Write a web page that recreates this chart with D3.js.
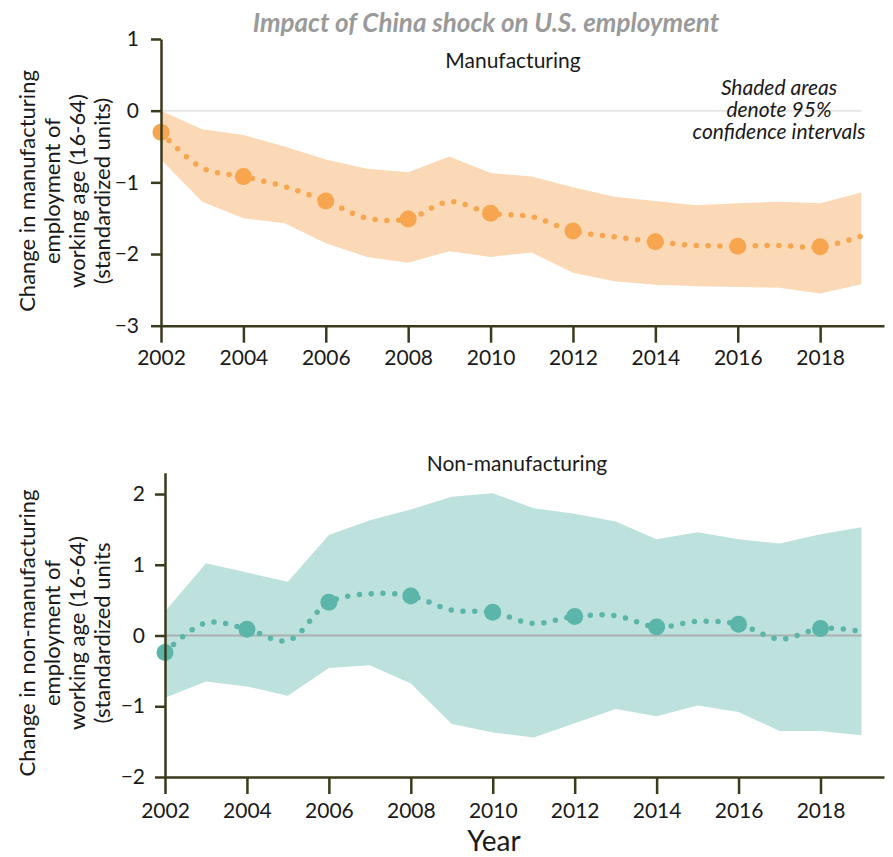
<!DOCTYPE html>
<html><head><meta charset="utf-8">
<script src="https://cdn.jsdelivr.net/npm/d3@7"></script>
<style>
body{margin:0;background:#fff;}
svg{display:block;font-family:Lato,"Open Sans",sans-serif;}
</style></head><body>
<svg id="c" width="893" height="857"></svg>
<script>
const years = d3.range(2002, 2020);
const xTicks = [2002,2004,2006,2008,2010,2012,2014,2016,2018];
const markerYears = [2002,2004,2006,2008,2010,2012,2014,2016,2018];

const mfgEst   = [-0.30,-0.80,-0.92,-1.06,-1.26,-1.50,-1.51,-1.27,-1.43,-1.48,-1.68,-1.76,-1.83,-1.88,-1.89,-1.88,-1.90,-1.75];
const mfgUpper = [0.00,-0.26,-0.34,-0.50,-0.68,-0.81,-0.86,-0.64,-0.87,-0.92,-1.07,-1.20,-1.26,-1.32,-1.29,-1.27,-1.29,-1.14];
const mfgLower = [-0.68,-1.27,-1.50,-1.57,-1.85,-2.04,-2.12,-1.96,-2.04,-1.98,-2.26,-2.38,-2.43,-2.45,-2.46,-2.47,-2.55,-2.42];

const nonEst   = [-0.24,0.18,0.09,-0.07,0.47,0.59,0.56,0.36,0.33,0.17,0.27,0.28,0.12,0.20,0.16,-0.05,0.10,0.06];
const nonUpper = [0.34,1.02,0.89,0.76,1.42,1.63,1.78,1.96,2.01,1.80,1.72,1.61,1.36,1.46,1.36,1.30,1.43,1.53];
const nonLower = [-0.88,-0.65,-0.72,-0.85,-0.46,-0.42,-0.68,-1.25,-1.37,-1.44,-1.24,-1.04,-1.14,-0.99,-1.08,-1.35,-1.35,-1.41];

const mfgYTicks = [1,0,-1,-2,-3];
const nonYTicks = [2,1,0,-1,-2];

const svg = d3.select("#c");
const axisColor = "#3a3a1c";
const fmt = d => d < 0 ? "\u2212" + Math.abs(d) : String(d);

function panel(cfg){
  const x = d3.scaleLinear().domain([2002, 2019.55]).range([cfg.x0, 884]);
  const y = d3.scaleLinear().domain(cfg.yDomain).range([cfg.yBottom, cfg.yTop]);
  const g = svg.append("g");
  const rows = years.map((yr,i)=>({yr, est:cfg.est[i], lo:cfg.lo[i], hi:cfg.hi[i]}));

  if(!cfg.zeroOver){
    g.append("line").attr("x1", x(2002)).attr("x2", x(2019)).attr("y1", y(0)).attr("y2", y(0))
      .attr("stroke", cfg.zeroColor).attr("stroke-width", 2);
  }
  g.append("path").datum(rows)
    .attr("d", d3.area().x(d=>x(d.yr)).y0(d=>y(d.lo)).y1(d=>y(d.hi)))
    .attr("fill", cfg.band);
  if(cfg.zeroOver){
    g.append("line").attr("x1", x(2002)).attr("x2", x(2019)).attr("y1", y(0)).attr("y2", y(0))
      .attr("stroke", cfg.zeroColor).attr("stroke-width", 2);
  }
  g.append("path").datum(rows)
    .attr("d", d3.line().x(d=>x(d.yr)).y(d=>y(d.est)).curve(d3.curveCatmullRom.alpha(0.5)))
    .attr("fill","none").attr("stroke", cfg.dot).attr("stroke-width", 5.5)
    .attr("stroke-linecap","round").attr("stroke-dasharray","0 11.8");
  g.selectAll("circle.m").data(rows.filter(d=>markerYears.includes(d.yr))).join("circle")
    .attr("cx", d=>x(d.yr)).attr("cy", d=>y(d.est)).attr("r", 8.5).attr("fill", cfg.dot);

  const xa = g.append("g").attr("transform", `translate(0,${cfg.yBottom})`)
    .call(d3.axisBottom(x).tickValues(xTicks).tickFormat(d3.format("d")).tickSize(17).tickSizeOuter(0).tickPadding(cfg.xPad));
  const ya = g.append("g").attr("transform", `translate(${cfg.x0},0)`)
    .call(d3.axisLeft(y).tickValues(cfg.yTicks).tickFormat(fmt).tickSize(10).tickSizeOuter(0).tickPadding(cfg.yPad));
  [xa, ya].forEach(a=>{
    a.select(".domain").attr("stroke", axisColor).attr("stroke-width", 2.5);
    a.selectAll(".tick line").attr("stroke", axisColor).attr("stroke-width", 2.5);
    a.selectAll(".tick text").attr("fill","#1a1a1a").style("font-size","21px").style("font-family","Lato, sans-serif");
  });

  g.append("text").attr("x", cfg.titleX).attr("y", cfg.titleY).attr("text-anchor","middle")
    .style("font-size","21px").attr("fill","#1a1a1a").text(cfg.title);

  const lab = g.append("text").attr("transform", `translate(0,${cfg.labelCY}) rotate(-90)`)
    .attr("text-anchor","middle").style("font-size","22px").attr("fill","#1a1a1a");
  cfg.label.forEach((t,i)=>{
    lab.append("tspan").attr("x",0).attr("y", 35 + i*25).text(t);
  });
}

svg.append("text").attr("x", 486).attr("y", 32).attr("text-anchor","middle")
  .style("font-size","26px").style("font-style","italic").style("font-weight","700")
  .attr("fill","#9a9a9a").text("Impact of China shock on U.S. employment");

panel({x0:161, yDomain:[-3,1], yBottom:325.7, yTop:39, est:mfgEst, lo:mfgLower, hi:mfgUpper,
  band:"#fbd9b6", dot:"#f7a54e", zeroColor:"#e6e6e6", zeroOver:false, yTicks:mfgYTicks,
  xPad:7, yPad:12, title:"Manufacturing", titleX:513, titleY:68, labelCY:191,
  label:["Change in manufacturing","employment of","working age (16-64)","(standardized units)"]});

panel({x0:165, yDomain:[-2,2.3], yBottom:777, yTop:472.8, est:nonEst, lo:nonLower, hi:nonUpper,
  band:"#bde1dc", dot:"#5bb5a9", zeroColor:"#a9b2b0", zeroOver:true, yTicks:nonYTicks,
  xPad:9, yPad:10, title:"Non-manufacturing", titleX:517, titleY:471, labelCY:633,
  label:["Change in non-manufacturing","employment of","working age (16-64)","(standardized units"]});

["Shaded areas","denote 95%","confidence intervals"].forEach((t,i)=>{
  svg.append("text").attr("text-anchor","middle").style("font-size","21px")
    .style("font-style","italic").attr("fill","#1a1a1a")
    .attr("x", 779).attr("y", 95 + i*22).text(t);
});

svg.append("text").attr("x", 494).attr("y", 851).attr("text-anchor","middle")
  .style("font-size","28px").attr("fill","#1a1a1a").text("Year");
</script>
</body></html>
